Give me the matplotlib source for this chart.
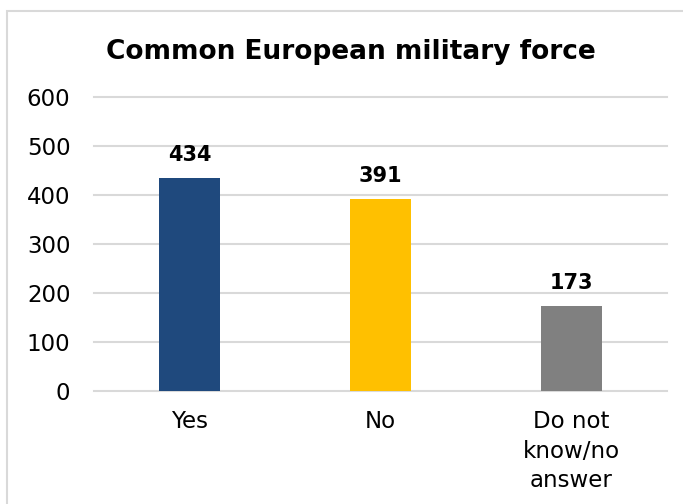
import matplotlib.pyplot as plt
from matplotlib.patches import Rectangle

plt.rcParams["font.family"] = ["DejaVu Sans"]

categories = ["Yes", "No", "Do not\nknow/no\nanswer"]
values = [434, 391, 173]
colors = ["#1F497D", "#FFC000", "#808080"]
yticks = [0, 100, 200, 300, 400, 500, 600]

fig = plt.figure(figsize=(6.83, 5.04), dpi=100)
ax = fig.add_axes([94 / 683, 113 / 504, 573 / 683, 294 / 504])

# light frame round the chart area
fig.patches.append(Rectangle((7 / 683, -0.1), 1.1, 0.1 + 493 / 504,
                             transform=fig.transFigure, fill=False,
                             edgecolor="#D9D9D9", linewidth=1.5))

x = range(len(categories))
bars = ax.bar(x, values, width=0.315, color=colors, zorder=3)
for b, v in zip(bars, values):
    ax.text(b.get_x() + b.get_width() / 2, v + 35, str(v), ha="center",
            va="baseline", fontsize=15, fontweight="bold", color="black")

ax.set_xlim(-0.5, 2.5)
ax.set_ylim(0, 600)
ax.set_yticks(yticks)
ax.set_yticklabels([str(t) for t in yticks], fontsize=16.5)
ax.set_xticks(list(x))
ax.set_xticklabels(categories, fontsize=16.5, linespacing=1.36, va="top")
ax.tick_params(length=0)
ax.tick_params(axis="y", pad=17)
ax.tick_params(axis="x", pad=14)
ax.grid(axis="y", color="#D9D9D9", linewidth=1.5, zorder=0)
for gl in ax.get_ygridlines():
    gl.set_clip_on(False)
for s in ax.spines.values():
    s.set_visible(False)

fig.text(351 / 683, 445 / 504, "Common European military force",
         ha="center", va="baseline", fontsize=19, fontweight="bold")

fig.savefig("out.png", dpi=100)
